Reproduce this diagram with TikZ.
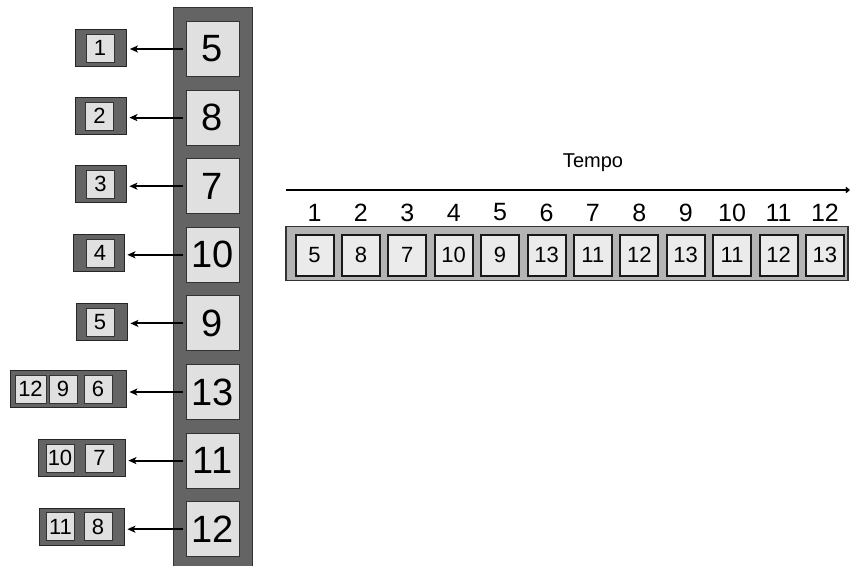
\documentclass[tikz,border=0pt]{standalone}
\usepackage{fontspec}
\setmainfont{Liberation Sans}
\usetikzlibrary{arrows.meta}
\definecolor{dk}{RGB}{100,100,100}
\definecolor{lt}{RGB}{224,224,224}
\definecolor{ltb}{RGB}{235,235,235}
\definecolor{md}{RGB}{180,180,180}
\begin{document}
\begin{tikzpicture}[x=1pt,y=-1pt,
 bigbox/.style={draw=black!80, line width=1pt, fill=lt, minimum width=53pt, minimum height=55pt, inner sep=0pt, font=\fontsize{38}{38}\selectfont},
 qouter/.style={draw=black!85, line width=0.8pt, fill=dk, minimum height=37pt, inner sep=0pt},
 qin/.style={draw=black!80, line width=0.8pt, fill=lt, minimum width=28pt, minimum height=28pt, inner sep=0pt, font=\fontsize{22}{22}\selectfont},
 sbox/.style={draw=black!90, line width=2pt, fill=ltb, minimum width=38pt, minimum height=41pt, inner sep=0pt, font=\fontsize{22}{22}\selectfont},
 tnum/.style={font=\fontsize{25}{25}\selectfont, inner sep=0pt},
 arr/.style={line width=2pt, -{Stealth[length=8pt,width=7pt,inset=2pt]}, shorten <=3pt, shorten >=3pt}
]
\useasboundingbox (0,0) rectangle (850,565);
\fill[white] (0,0) rectangle (850,565);
% column
\node[draw=black!80, line width=1pt, fill=dk, minimum width=79pt, minimum height=575pt, inner sep=0pt, anchor=north] (col) at (212.5,7) {};
\foreach \v [count=\j] in {5,8,7,10,9,13,11,12}
  \node[bigbox] (b\j) at (212.5, {49+68.6*(\j-1)}) {\v};
% queues
\node[qouter, minimum width=51pt] (q1) at (101,48) {};
\node[qin] (q1a) at (100,48) {1};
\node[qouter, minimum width=51pt] (q2) at (100.5,116) {};
\node[qin] (q2a) at (99.5,116) {2};
\node[qouter, minimum width=51pt] (q3) at (100.5,184) {};
\node[qin] (q3a) at (100.5,184) {3};
\node[qouter, minimum width=51pt] (q4) at (98.5,253) {};
\node[qin] (q4a) at (100,253) {4};
\node[qouter, minimum width=51pt] (q5) at (101.5,322) {};
\node[qin] (q5a) at (100,322) {5};
\node[qouter, minimum width=116pt] (q6) at (68,389) {};
\node[qin, minimum width=31pt] (q6a) at (30.5,389) {12};
\node[qin] (q6b) at (63,389) {9};
\node[qin] (q6c) at (98,389) {6};
\node[qouter, minimum width=87pt] (q7) at (81.5,458) {};
\node[qin] (q7a) at (60,458) {10};
\node[qin] (q7b) at (99.5,458) {7};
\node[qouter, minimum width=85pt] (q8) at (81.5,526.5) {};
\node[qin] (q8a) at (60.5,526.5) {11};
\node[qin] (q8b) at (98,526.5) {8};
\foreach \j in {1,...,8}
  \draw[arr] (b\j.west) -- (b\j.west -| q\j.east);
% timeline
\node[font=\fontsize{20}{20}\selectfont, inner sep=0pt] (tempo) at (593,163) {Tempo};
\coordinate (ax0) at (286,190);
\coordinate (ax1) at (850,190);
\draw[line width=1.5pt, -{Straight Barb[length=3pt,width=5pt]}] (ax0) -- (ax1);
\node[draw=black!80, line width=1.2pt, fill=md, minimum width=562pt, minimum height=54pt, inner sep=0pt] (strip) at (567,253.5) {};
\foreach \v [count=\j] in {5,8,7,10,9,13,11,12,13,11,12,13}{
  \node[sbox] (s\j) at ({314.5+46.4*(\j-1)}, 255) {\v};
  \node[tnum] (t\j) at ({314.5+46.4*(\j-1)}, 212.5) {\j};
}
\end{tikzpicture}
\end{document}
